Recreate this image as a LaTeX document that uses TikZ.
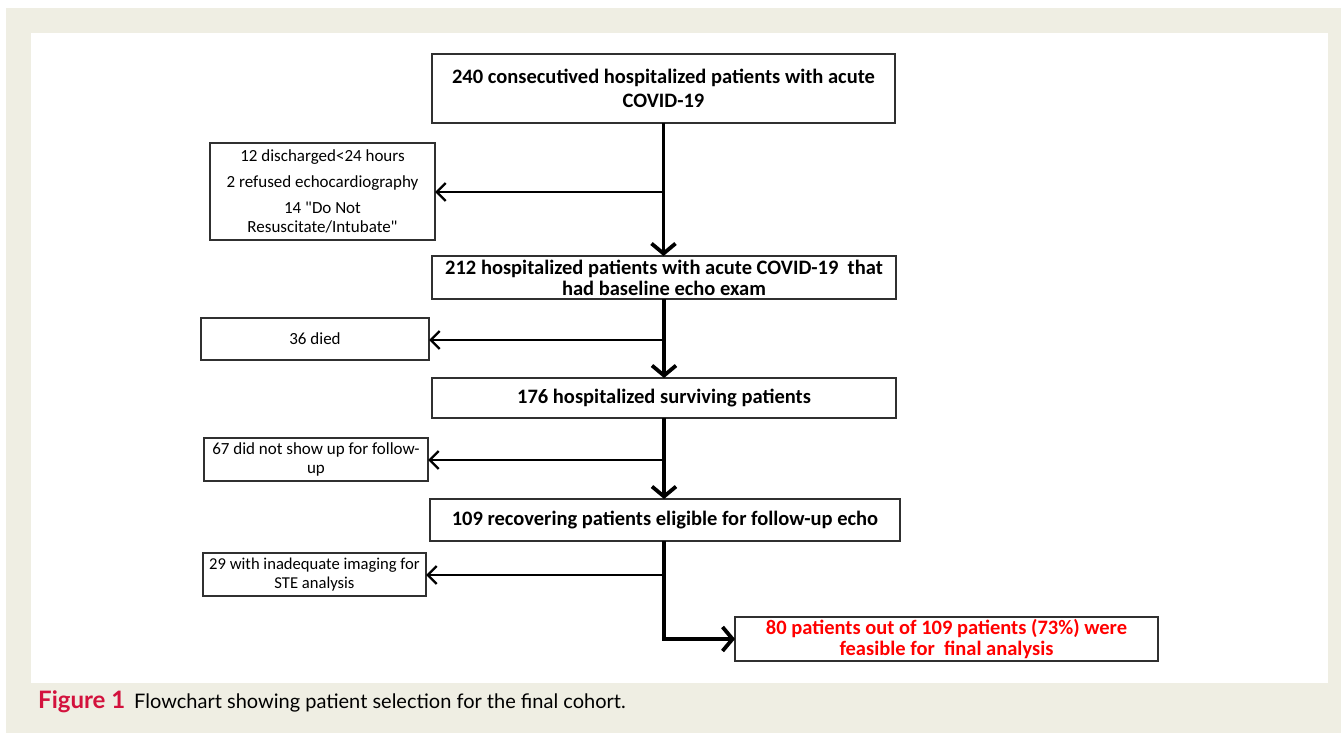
\documentclass[tikz,border=0pt]{standalone}
\usepackage{fontspec}
\setmainfont{Carlito}[Ligatures=TeXOff]
\newfontfamily\capfont{Lato}
\usetikzlibrary{arrows.meta}
\definecolor{framebg}{HTML}{EFEEE3}
\definecolor{boxline}{HTML}{303030}
\definecolor{capred}{HTML}{D3123D}
\tikzset{
  mainbox/.style={draw=boxline, line width=1.6pt, fill=white, inner sep=0pt, outer sep=0pt, align=center,
    font=\fontsize{20.5}{24}\selectfont\bfseries},
  sidebox/.style={draw=boxline, line width=1.6pt, fill=white, inner sep=0pt, outer sep=0pt, align=center,
    font=\fontsize{17}{19}\selectfont},
  trunk/.style={line width=3.8pt, -{Straight Barb[length=10pt,width=24pt]}},
  sidearrow/.style={line width=2.4pt, -{Straight Barb[length=9pt,width=18pt]}}
}
\begin{document}
\begin{tikzpicture}[x=1pt,y=-1pt]
\useasboundingbox (0,0) rectangle (1341,733);
\fill[white] (0,0) rectangle (1341,733);
\fill[framebg] (6,8) rectangle (1341,733);
\fill[white] (31,33) rectangle (1328,683);

% main boxes
\node[mainbox, minimum width=463pt, minimum height=69pt] (b1) at (663.5,88.5)
  {240 consecutived hospitalized patients with acute\\COVID-19};
\node[mainbox, minimum width=464pt, minimum height=43pt, font=\fontsize{20.5}{21}\selectfont\bfseries] (b2) at (664,277.5)
  {212 hospitalized patients with acute COVID-19\ \ that\\had baseline echo exam};
\node[mainbox, minimum width=464pt, minimum height=40pt] (b3) at (664,398)
  {176 hospitalized surviving patients};
\node[mainbox, minimum width=470pt, minimum height=42pt] (b4) at (665,520)
  {109 recovering patients eligible for follow-up echo};
\node[mainbox, minimum width=423pt, minimum height=44pt, text=red, font=\fontsize{20.5}{21}\selectfont\bfseries] (b5) at (946.5,639)
  {80 patients out of 109 patients (73\%) were\\feasible for\ \ final analysis};

% side boxes
\node[sidebox, minimum width=225pt, minimum height=97pt] (s1) at (322.5,191.5)
  {12 discharged<24 hours\\[7pt]2 refused echocardiography\\[7pt]14 \symbol{34}Do Not\\Resuscitate/Intubate\symbol{34}};
\node[sidebox, minimum width=228pt, minimum height=42pt] (s2) at (315,339) {36 died};
\node[sidebox, minimum width=224pt, minimum height=43pt] (s3) at (316,459.5)
  {67 did not show up for follow-\\up};
\node[sidebox, minimum width=223pt, minimum height=43pt, font=\fontsize{16.6}{19}\selectfont] (s4) at (314.5,574.5)
  {29 with inadequate imaging for\\STE analysis};

% junctions on the trunk
\coordinate (j1) at (664,192);
\coordinate (j2) at (664,340);
\coordinate (j3) at (664,460);
\coordinate (j4) at (664,575);

% trunk
\draw[trunk] (b1.south) -- (b1.south |- b2.north);
\draw[trunk] (b2.south -| j2) -- (j2 |- b3.north);
\draw[trunk] (b3.south -| j3) -- (j3 |- b4.north);
\draw[trunk] (b4.south -| j4) |- (b5.west);

% side arrows
\draw[sidearrow] (j1) -- (j1 -| s1.east);
\draw[sidearrow] (j2) -- (j2 -| s2.east);
\draw[sidearrow] (j3) -- (j3 -| s3.east);
\draw[sidearrow] (j4) -- (j4 -| s4.east);

% caption
\node[anchor=base west, inner sep=0pt, font=\capfont\fontsize{20}{24}\selectfont] (cap) at (38,708)
  {{\fontsize{24}{24}\selectfont\bfseries\color{capred}Figure 1}\hspace{9pt}Flowchart showing patient selection for the final cohort.};
\end{tikzpicture}
\end{document}
